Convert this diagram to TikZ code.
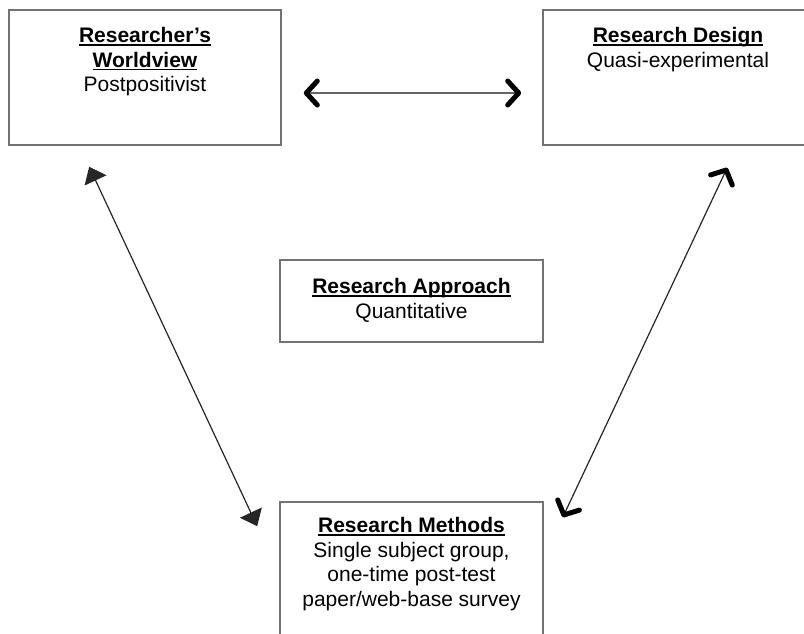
\documentclass[tikz,border=0pt]{standalone}
\usepackage{fontspec}
\setmainfont{Liberation Sans}
\usetikzlibrary{arrows.meta,positioning}
\newcommand{\boxtitle}[1]{\setbox0\hbox{\textbf{#1}}\rlap{\rule[-3pt]{\wd0}{1.6pt}}\box0}

\begin{document}
\begin{tikzpicture}[x=1pt,y=-1pt,
    frame/.style={draw=black!55,line width=1.6pt},
    boxtext/.style={align=center,inner sep=0pt,font=\fontsize{21}{24.5}\selectfont},
    chevrons/.style={{Straight Barb[length=11pt,width=24pt,line width=5pt,round,color=black]}-{Straight Barb[length=11pt,width=24pt,line width=5pt,round,color=black]}},
    tris/.style={{Triangle[length=15pt,width=24pt]}-{Triangle[length=15pt,width=24pt]}}]
  \useasboundingbox (0,0) rectangle (804,633);
  \clip (0,0) rectangle (804,633);

  % the four boxes
  \node[frame,minimum width=272pt,minimum height=135pt] (wv) at (145,77.5) {};
  \node[frame,minimum width=270pt,minimum height=135pt] (rd) at (678,77.5) {};
  \node[frame,minimum width=263pt,minimum height=82pt] (ra) at (411.5,301) {};
  \node[frame,minimum width=263pt,minimum height=158pt] (rm) at (411.5,581) {};

  % their texts
  \node[boxtext,below=18pt of wv.north] (wvtxt) {\boxtitle{Researcher’s}\\\boxtitle{Worldview}\\Postpositivist};
  \node[boxtext,below=18pt of rd.north] (rdtxt) {\boxtitle{Research Design}\\Quasi-experimental};
  \node[boxtext,below=19pt of ra.north] (ratxt) {\boxtitle{Research Approach}\\Quantitative};
  \node[boxtext,below=16pt of rm.north] (rmtxt) {\boxtitle{Research Methods}\\Single subject group,\\one-time post-test\\paper/web-base survey};

  % connectors
  \draw[chevrons,black!60,line width=1.5pt] ([shift={(22,15.5)}]wv.east) -- ([shift={(-21,15.5)}]rd.west);
  \draw[tris,black!85,line width=1.2pt] ([shift={(81,21)}]wv.south west) -- ([shift={(-22,25)}]rm.north west);
  \draw[chevrons,black!85,line width=1.2pt] ([shift={(185,22)}]rd.south west) -- ([shift={(19,16)}]rm.north east);
\end{tikzpicture}
\end{document}
